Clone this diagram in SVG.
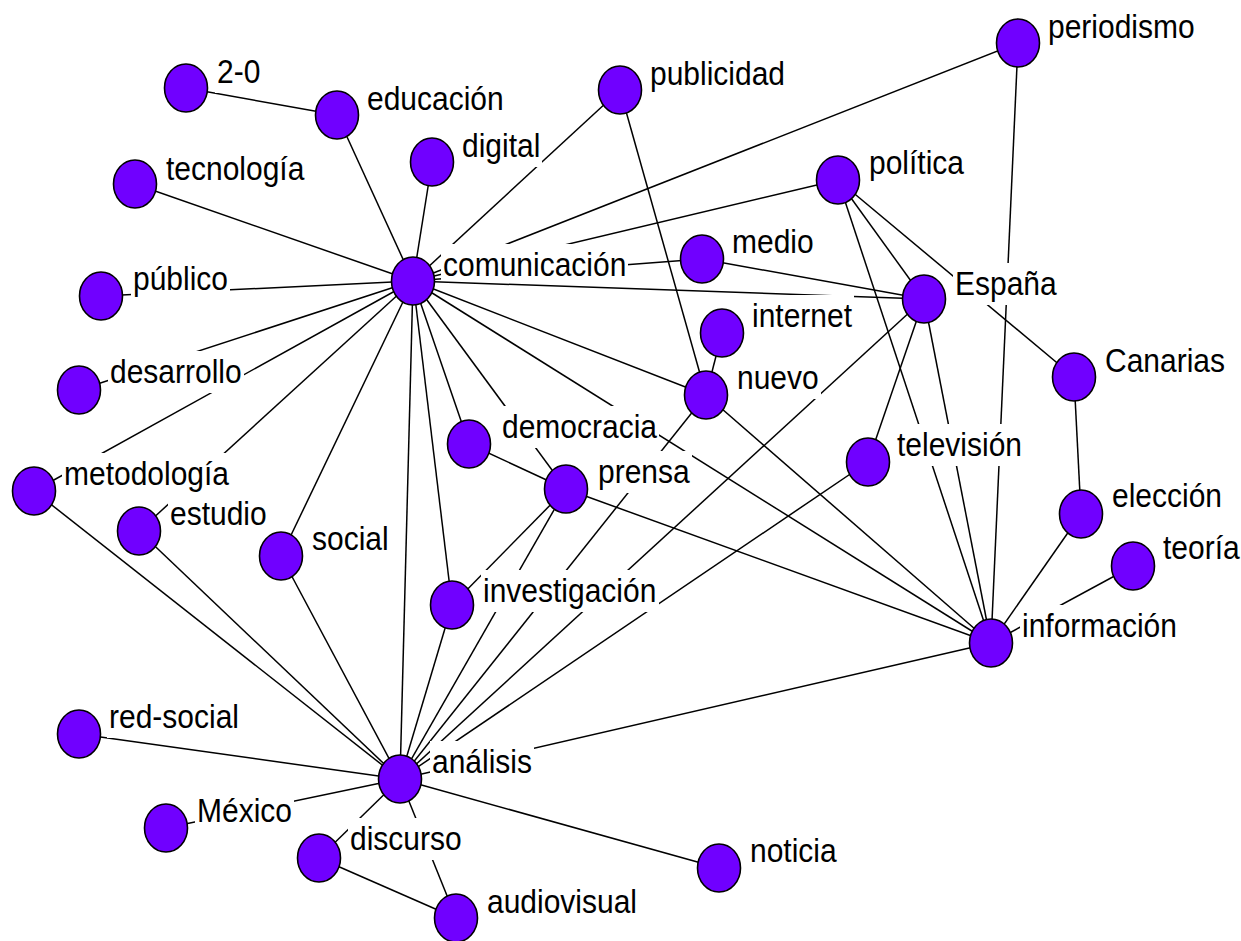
<svg xmlns="http://www.w3.org/2000/svg" width="1241" height="941" viewBox="0 0 1241 941">
<style>
.e line{stroke:#000;stroke-width:1.5;fill:none}
.n ellipse{fill:#7000FF;stroke:#000;stroke-width:1.6}
.n rect{fill:#fff;stroke:none}
.n text{font-family:"Liberation Sans",Arial,sans-serif;font-size:30px;fill:#000}
</style>
<rect width="1241" height="941" fill="#fff"/>
<g id="connectors" class="e">
<line x1="186" y1="88" x2="337" y2="115"/>
<line x1="337" y1="115" x2="413" y2="281"/>
<line x1="432" y1="162" x2="413" y2="281"/>
<line x1="620" y1="90" x2="413" y2="281"/>
<line x1="620" y1="90" x2="706" y2="395"/>
<line x1="1018" y1="43" x2="413" y2="281"/>
<line x1="1018" y1="43" x2="991" y2="643"/>
<line x1="838" y1="180" x2="413" y2="281"/>
<line x1="838" y1="180" x2="924" y2="299"/>
<line x1="838" y1="180" x2="1074" y2="377"/>
<line x1="838" y1="180" x2="991" y2="643"/>
<line x1="135" y1="184" x2="413" y2="281"/>
<line x1="413" y1="281" x2="702" y2="259"/>
<line x1="413" y1="281" x2="924" y2="299"/>
<line x1="101" y1="296" x2="413" y2="281"/>
<line x1="79" y1="390" x2="413" y2="281"/>
<line x1="34" y1="491" x2="413" y2="281"/>
<line x1="139" y1="531" x2="413" y2="281"/>
<line x1="281" y1="556" x2="413" y2="281"/>
<line x1="413" y1="281" x2="400" y2="779"/>
<line x1="413" y1="281" x2="452" y2="605"/>
<line x1="413" y1="281" x2="469" y2="444"/>
<line x1="413" y1="281" x2="566" y2="489"/>
<line x1="413" y1="281" x2="991" y2="643"/>
<line x1="413" y1="281" x2="706" y2="395"/>
<line x1="702" y1="259" x2="924" y2="299"/>
<line x1="924" y1="299" x2="868" y2="462"/>
<line x1="924" y1="299" x2="991" y2="643"/>
<line x1="924" y1="299" x2="400" y2="779"/>
<line x1="722" y1="333" x2="706" y2="395"/>
<line x1="706" y1="395" x2="991" y2="643"/>
<line x1="706" y1="395" x2="400" y2="779"/>
<line x1="1074" y1="377" x2="1081" y2="514"/>
<line x1="469" y1="444" x2="566" y2="489"/>
<line x1="566" y1="489" x2="991" y2="643"/>
<line x1="566" y1="489" x2="400" y2="779"/>
<line x1="566" y1="489" x2="452" y2="605"/>
<line x1="868" y1="462" x2="400" y2="779"/>
<line x1="1081" y1="514" x2="991" y2="643"/>
<line x1="1133" y1="566" x2="991" y2="643"/>
<line x1="452" y1="605" x2="400" y2="779"/>
<line x1="34" y1="491" x2="400" y2="779"/>
<line x1="139" y1="531" x2="400" y2="779"/>
<line x1="281" y1="556" x2="400" y2="779"/>
<line x1="79" y1="734" x2="400" y2="779"/>
<line x1="166" y1="828" x2="400" y2="779"/>
<line x1="319" y1="858" x2="400" y2="779"/>
<line x1="400" y1="779" x2="456" y2="918"/>
<line x1="400" y1="779" x2="719" y2="868"/>
<line x1="400" y1="779" x2="991" y2="643"/>
<line x1="319" y1="858" x2="456" y2="918"/>
</g>
<g id="node-2-0" class="n"><ellipse cx="186" cy="88" rx="21.5" ry="24"/><rect x="215" y="51" width="48" height="42"/><text transform="translate(217 83) scale(1 1.1)">2-0</text></g>
<g id="node-educacion" class="n"><ellipse cx="337" cy="115" rx="21.5" ry="24"/><rect x="365" y="78" width="141" height="42"/><text transform="translate(367 110) scale(1 1.1)">educación</text></g>
<g id="node-digital" class="n"><ellipse cx="432" cy="162" rx="21.5" ry="24"/><rect x="460" y="125" width="82" height="42"/><text transform="translate(462 157) scale(1 1.1)">digital</text></g>
<g id="node-publicidad" class="n"><ellipse cx="620" cy="90" rx="21.5" ry="24"/><rect x="648" y="53" width="139" height="42"/><text transform="translate(650 85) scale(1 1.1)">publicidad</text></g>
<g id="node-periodismo" class="n"><ellipse cx="1018" cy="43" rx="21.5" ry="24"/><rect x="1046" y="6" width="151" height="42"/><text transform="translate(1048 38) scale(1 1.1)">periodismo</text></g>
<g id="node-politica" class="n"><ellipse cx="838" cy="180" rx="21.5" ry="24"/><rect x="867" y="142" width="99" height="42"/><text transform="translate(869 174) scale(1 1.1)">política</text></g>
<g id="node-tecnologia" class="n"><ellipse cx="135" cy="184" rx="21.5" ry="24"/><rect x="164" y="148" width="142" height="42"/><text transform="translate(166 180) scale(1 1.1)">tecnología</text></g>
<g id="node-comunicacion" class="n"><ellipse cx="413" cy="281" rx="21.5" ry="24"/><rect x="441" y="244" width="187" height="36"/><text transform="translate(443 276) scale(1 1.1)">comunicación</text></g>
<g id="node-medio" class="n"><ellipse cx="702" cy="259" rx="21.5" ry="24"/><rect x="730" y="221" width="86" height="42"/><text transform="translate(732 253) scale(1 1.1)">medio</text></g>
<g id="node-espana" class="n"><ellipse cx="924" cy="299" rx="21.5" ry="24"/><rect x="953" y="263" width="106" height="42"/><text transform="translate(955 295) scale(1 1.1)">España</text></g>
<g id="node-publico" class="n"><ellipse cx="101" cy="296" rx="21.5" ry="24"/><rect x="131" y="258" width="99" height="42"/><text transform="translate(133 290) scale(1 1.1)">público</text></g>
<g id="node-internet" class="n"><ellipse cx="722" cy="333" rx="21.5" ry="24"/><rect x="750" y="295" width="104" height="42"/><text transform="translate(752 327) scale(1 1.1)">internet</text></g>
<g id="node-nuevo" class="n"><ellipse cx="706" cy="395" rx="21.5" ry="24"/><rect x="735" y="357" width="86" height="42"/><text transform="translate(737 389) scale(1 1.1)">nuevo</text></g>
<g id="node-desarrollo" class="n"><ellipse cx="79" cy="390" rx="21.5" ry="24"/><rect x="108" y="351" width="136" height="42"/><text transform="translate(110 383) scale(1 1.1)">desarrollo</text></g>
<g id="node-canarias" class="n"><ellipse cx="1074" cy="377" rx="21.5" ry="24"/><rect x="1103" y="340" width="124" height="42"/><text transform="translate(1105 372) scale(1 1.1)">Canarias</text></g>
<g id="node-democracia" class="n"><ellipse cx="469" cy="444" rx="21.5" ry="24"/><rect x="500" y="406" width="159" height="42"/><text transform="translate(502 438) scale(1 1.1)">democracia</text></g>
<g id="node-television" class="n"><ellipse cx="868" cy="462" rx="21.5" ry="24"/><rect x="895" y="424" width="129" height="42"/><text transform="translate(897 456) scale(1 1.1)">televisión</text></g>
<g id="node-metodologia" class="n"><ellipse cx="34" cy="491" rx="21.5" ry="24"/><rect x="62" y="453" width="169" height="42"/><text transform="translate(64 485) scale(1 1.1)">metodología</text></g>
<g id="node-prensa" class="n"><ellipse cx="566" cy="489" rx="21.5" ry="24"/><rect x="596" y="451" width="96" height="42"/><text transform="translate(598 483) scale(1 1.1)">prensa</text></g>
<g id="node-estudio" class="n"><ellipse cx="139" cy="531" rx="21.5" ry="24"/><rect x="168" y="493" width="101" height="42"/><text transform="translate(170 525) scale(1 1.1)">estudio</text></g>
<g id="node-eleccion" class="n"><ellipse cx="1081" cy="514" rx="21.5" ry="24"/><rect x="1110" y="475" width="114" height="42"/><text transform="translate(1112 507) scale(1 1.1)">elección</text></g>
<g id="node-social" class="n"><ellipse cx="281" cy="556" rx="21.5" ry="24"/><rect x="310" y="518" width="81" height="42"/><text transform="translate(312 550) scale(1 1.1)">social</text></g>
<g id="node-teoria" class="n"><ellipse cx="1133" cy="566" rx="21.5" ry="24"/><rect x="1161" y="527" width="81" height="42"/><text transform="translate(1163 559) scale(1 1.1)">teoría</text></g>
<g id="node-investigacion" class="n"><ellipse cx="452" cy="605" rx="21.5" ry="24"/><rect x="481" y="570" width="178" height="42"/><text transform="translate(483 602) scale(1 1.1)">investigación</text></g>
<g id="node-informacion" class="n"><ellipse cx="991" cy="643" rx="21.5" ry="24"/><rect x="1020" y="605" width="159" height="42"/><text transform="translate(1022 637) scale(1 1.1)">información</text></g>
<g id="node-red-social" class="n"><ellipse cx="79" cy="734" rx="21.5" ry="24"/><rect x="107" y="696" width="134" height="42"/><text transform="translate(109 728) scale(1 1.1)">red-social</text></g>
<g id="node-analisis" class="n"><ellipse cx="400" cy="779" rx="21.5" ry="24"/><rect x="430" y="741" width="104" height="42"/><text transform="translate(432 773) scale(1 1.1)">análisis</text></g>
<g id="node-mexico" class="n"><ellipse cx="166" cy="828" rx="21.5" ry="24"/><rect x="195" y="790" width="99" height="42"/><text transform="translate(197 822) scale(1 1.1)">México</text></g>
<g id="node-discurso" class="n"><ellipse cx="319" cy="858" rx="21.5" ry="24"/><rect x="348" y="818" width="116" height="42"/><text transform="translate(350 850) scale(1 1.1)">discurso</text></g>
<g id="node-noticia" class="n"><ellipse cx="719" cy="868" rx="21.5" ry="24"/><rect x="748" y="830" width="91" height="42"/><text transform="translate(750 862) scale(1 1.1)">noticia</text></g>
<g id="node-audiovisual" class="n"><ellipse cx="456" cy="918" rx="21.5" ry="24"/><rect x="485" y="881" width="154" height="42"/><text transform="translate(487 913) scale(1 1.1)">audiovisual</text></g>
</svg>
